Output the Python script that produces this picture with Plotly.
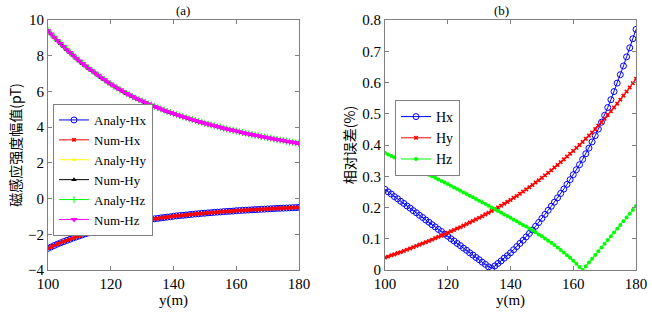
import plotly.graph_objects as go

y_m = list(range(100, 181))

# Left panel: magnetic field amplitude (pT)
analy_hx = [-2.79, -2.71, -2.63, -2.55, -2.48, -2.41, -2.34, -2.28, -2.21, -2.15, -2.09,
            -2.03, -1.97, -1.92, -1.86, -1.81, -1.76, -1.72, -1.67, -1.63, -1.58,
            -1.54, -1.50, -1.46, -1.43, -1.39, -1.36, -1.33, -1.30, -1.27, -1.24,
            -1.21, -1.18, -1.16, -1.13, -1.11, -1.08, -1.06, -1.04, -1.02, -0.99,
            -0.97, -0.95, -0.94, -0.92, -0.90, -0.88, -0.86, -0.85, -0.83, -0.82,
            -0.80, -0.79, -0.77, -0.76, -0.75, -0.73, -0.72, -0.71, -0.70, -0.68,
            -0.67, -0.66, -0.65, -0.64, -0.63, -0.62, -0.61, -0.60, -0.59, -0.58,
            -0.57, -0.56, -0.55, -0.545, -0.535, -0.53, -0.52, -0.51, -0.505, -0.495]
num_hx = list(analy_hx)

analy_hy = [9.40, 9.21, 9.03, 8.85, 8.68, 8.51, 8.34, 8.18, 8.02, 7.86, 7.71,
            7.57, 7.43, 7.29, 7.16, 7.03, 6.90, 6.77, 6.65, 6.53, 6.41,
            6.30, 6.19, 6.09, 5.99, 5.89, 5.80, 5.71, 5.62, 5.54, 5.46,
            5.38, 5.30, 5.23, 5.16, 5.09, 5.02, 4.95, 4.88, 4.82, 4.76,
            4.70, 4.64, 4.58, 4.53, 4.47, 4.42, 4.37, 4.32, 4.27, 4.22,
            4.17, 4.12, 4.08, 4.03, 3.99, 3.94, 3.90, 3.86, 3.82, 3.78,
            3.74, 3.70, 3.66, 3.62, 3.59, 3.55, 3.52, 3.48, 3.45, 3.41,
            3.38, 3.34, 3.31, 3.28, 3.25, 3.21, 3.18, 3.15, 3.12, 3.08]
num_hy = list(analy_hy)
analy_hz = list(analy_hy)
num_hz = list(analy_hy)

# Right panel: relative error (%)
err_hx = [0.258, 0.250, 0.243, 0.235, 0.228, 0.220, 0.213, 0.205, 0.198, 0.190, 0.183,
          0.175, 0.168, 0.160, 0.153, 0.145, 0.138, 0.130, 0.123, 0.115, 0.108,
          0.100, 0.093, 0.085, 0.078, 0.070, 0.063, 0.055, 0.048, 0.040, 0.033,
          0.025, 0.018, 0.010, 0.005, 0.013, 0.021, 0.029, 0.038, 0.046, 0.055,
          0.065, 0.075, 0.085, 0.095, 0.106, 0.117, 0.128, 0.140, 0.152, 0.165,
          0.178, 0.191, 0.204, 0.217, 0.231, 0.245, 0.259, 0.274, 0.289, 0.305,
          0.321, 0.337, 0.354, 0.372, 0.390, 0.410, 0.430, 0.451, 0.473, 0.495,
          0.520, 0.545, 0.571, 0.598, 0.625, 0.653, 0.682, 0.711, 0.740, 0.770]
err_hy = [0.040, 0.043, 0.047, 0.050, 0.054, 0.057, 0.061, 0.065, 0.069, 0.073, 0.077,
          0.081, 0.085, 0.089, 0.093, 0.097, 0.102, 0.106, 0.110, 0.115, 0.119,
          0.124, 0.128, 0.133, 0.137, 0.142, 0.147, 0.152, 0.157, 0.162, 0.167,
          0.172, 0.178, 0.183, 0.189, 0.194, 0.200, 0.206, 0.212, 0.218, 0.224,
          0.231, 0.237, 0.244, 0.251, 0.258, 0.265, 0.272, 0.280, 0.287, 0.295,
          0.303, 0.311, 0.319, 0.328, 0.336, 0.345, 0.354, 0.363, 0.372, 0.381,
          0.391, 0.400, 0.410, 0.420, 0.430, 0.440, 0.451, 0.462, 0.473, 0.484,
          0.496, 0.508, 0.520, 0.532, 0.545, 0.558, 0.571, 0.584, 0.598, 0.612]
err_hz = [0.375, 0.370, 0.365, 0.360, 0.355, 0.350, 0.345, 0.340, 0.335, 0.330, 0.325,
          0.320, 0.315, 0.310, 0.305, 0.300, 0.295, 0.290, 0.285, 0.280, 0.275,
          0.270, 0.264, 0.259, 0.254, 0.248, 0.243, 0.238, 0.233, 0.227, 0.222,
          0.217, 0.211, 0.206, 0.200, 0.195, 0.189, 0.184, 0.178, 0.173, 0.167,
          0.161, 0.156, 0.150, 0.144, 0.139, 0.133, 0.127, 0.121, 0.114, 0.108,
          0.101, 0.094, 0.087, 0.080, 0.072, 0.064, 0.056, 0.047, 0.039, 0.030,
          0.020, 0.010, 0.000, 0.012, 0.024, 0.036, 0.048, 0.060, 0.072, 0.084,
          0.096, 0.108, 0.120, 0.132, 0.144, 0.156, 0.168, 0.180, 0.192, 0.205]

x_ticks = [100, 120, 140, 160, 180]
left_y_ticks = [-4, -2, 0, 2, 4, 6, 8, 10]
right_y_ticks = [0, 0.1, 0.2, 0.3, 0.4, 0.5, 0.6, 0.7, 0.8]

SERIF = "Liberation Serif"
CJK = "Noto Sans CJK SC"

fig = go.Figure()

def add(x, y, name, color, symbol, size, xa, ya, legend, width=1, mline=None):
    marker = dict(symbol=symbol, size=size, color=color)
    if mline is not None:
        marker["line"] = dict(color=color, width=mline)
    fig.add_trace(go.Scatter(x=x, y=y, name=name, mode="lines+markers",
                             line=dict(color=color, width=width), marker=marker,
                             xaxis=xa, yaxis=ya, legend=legend))

add(y_m, analy_hx, "Analy-Hx", "#0000FF", "circle-open", 6, "x", "y", "legend", mline=1)
add(y_m, num_hx, "Num-Hx", "#FF0000", "x", 4, "x", "y", "legend")
add(y_m, analy_hy, "Analy-Hy", "#FFFF00", "circle", 3, "x", "y", "legend")
add(y_m, num_hy, "Num-Hy", "#000000", "triangle-up", 5, "x", "y", "legend")
add(y_m, analy_hz, "Analy-Hz", "#00FF00", "cross-thin-open", 5, "x", "y", "legend", mline=1)
add(y_m, num_hz, "Num-Hz", "#FF00FF", "triangle-down", 6, "x", "y", "legend")

add(y_m, err_hx, "Hx", "#0000FF", "circle-open", 6, "x2", "y2", "legend2", mline=1)
add(y_m, err_hy, "Hy", "#FF0000", "x", 4, "x2", "y2", "legend2")
add(y_m, err_hz, "Hz", "#00FF00", "circle", 4, "x2", "y2", "legend2")

W, H = 652, 313
ax_common = dict(showgrid=False, zeroline=False, showline=True, linecolor="#808080",
                 linewidth=1, mirror="ticks", ticks="inside", ticklen=4, automargin=False,
                 tickcolor="#808080", tickfont=dict(family=SERIF, size=15, color="#000"))

fig.update_layout(
    width=W, height=H,
    margin=dict(l=0, r=0, t=20, b=43, autoexpand=False),
    paper_bgcolor="white", plot_bgcolor="white",
    showlegend=True,
    xaxis=dict(domain=[48 / W, 299 / W], range=[100, 180], tickvals=x_ticks,
               title=dict(text="y(m)", font=dict(family=SERIF, size=15, color="#000"), standoff=1),
               **ax_common),
    yaxis=dict(domain=[0, 1], range=[-4, 10], tickvals=left_y_ticks,
               title=dict(text="磁感应强度幅值(pT)", font=dict(family=CJK, size=14, color="#000"), standoff=3),
               **ax_common),
    xaxis2=dict(domain=[385 / W, 636 / W], range=[100, 180], tickvals=x_ticks, anchor="y2",
                title=dict(text="y(m)", font=dict(family=SERIF, size=15, color="#000"), standoff=1),
                **ax_common),
    yaxis2=dict(domain=[0, 1], range=[0, 0.8], tickvals=right_y_ticks, anchor="x2",
                tickformat=".1~f",
                title=dict(text="相对误差(%)", font=dict(family=CJK, size=14, color="#000"), standoff=3),
                **ax_common),
    legend=dict(x=53 / W, y=1 - (104 - 20) / 250, xref="paper", yref="paper",
                xanchor="left", yanchor="top", bgcolor="white", bordercolor="#808080",
                borderwidth=1, font=dict(family=SERIF, size=13, color="#000"),
                itemwidth=30, tracegroupgap=0),
    legend2=dict(x=395 / W, y=1 - (100 - 20) / 250, xref="paper", yref="paper",
                 xanchor="left", yanchor="top", bgcolor="white", bordercolor="#808080",
                 borderwidth=1, font=dict(family=SERIF, size=14, color="#000"),
                 itemwidth=30, tracegroupgap=0),
    annotations=[
        dict(text="(a)", x=(48 + 299) / 2 / W, y=1, xref="paper", yref="paper",
             yanchor="bottom", showarrow=False, yshift=0,
             font=dict(family=SERIF, size=13, color="#000")),
        dict(text="(b)", x=(385 + 636) / 2 / W, y=1, xref="paper", yref="paper",
             yanchor="bottom", showarrow=False, yshift=0,
             font=dict(family=SERIF, size=13, color="#000")),
    ],
)

fig.write_html("out.html", config={"displayModeBar": False},
               post_script="document.body.style.margin='0';")
